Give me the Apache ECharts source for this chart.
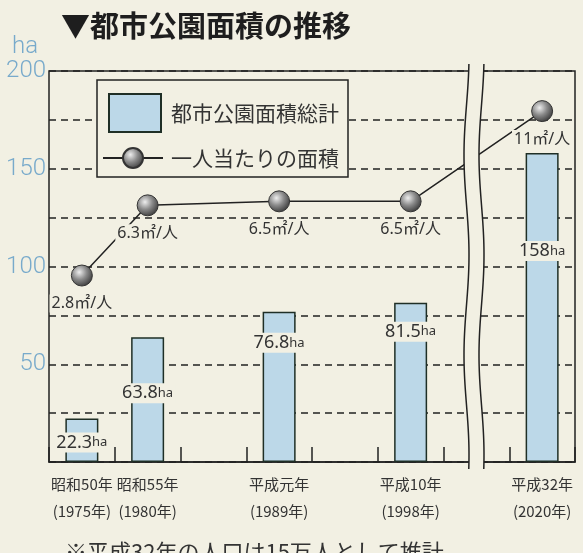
<!DOCTYPE html>
<html>
<head>
<meta charset="utf-8">
<script src="https://cdn.jsdelivr.net/npm/echarts@6/dist/echarts.min.js"></script>
<style>
  html, body { margin: 0; padding: 0; background: #f2f0e3; }
  #main { width: 583px; height: 553px; }
</style>
</head>
<body>
<div id="main"></div>
<script>
  // 区分（空欄は間隔を空けるためのもの）
  var categories = ['1975', '1980', 'gap1', '1989', 'gap2', '1998', 'gap3', '2020'];
  var eraLabels = ['昭和50年', '昭和55年', '', '平成元年', '', '平成10年', '', '平成32年'];
  var yearLabels = ['(1975年)', '(1980年)', '', '(1989年)', '', '(1998年)', '', '(2020年)'];
  // 都市公園面積総計 (ha)
  var parkArea = [22.3, 63.8, null, 76.8, null, 81.5, null, 158];
  // 一人当たりの面積 (㎡/人)
  var perPerson = [2.8, 6.3, null, 6.5, null, 6.5, null, 11];
  var yLabelTicks = [50, 100, 150, 200];

  var bg = '#f2f0e3';
  var ink = '#222';
  var jp = '"Noto Sans CJK JP", "Noto Sans", sans-serif';

  // ラベルをバー上端からどれだけ下げるか
  var barLabelDrop = [24, 56, 0, 31, 0, 29, 0, 98];

  var barData = parkArea.map(function (v, i) {
    if (v == null) return null;
    return { value: v, label: { position: ['50%', barLabelDrop[i]] } };
  });

  // 省略記号（波線）
  function wave(base) {
    var pts = [];
    for (var y = 64; y <= 470; y += 3) {
      pts.push([base + 2.5 * Math.cos(2 * Math.PI * (y - 55) / 200), y]);
    }
    return pts;
  }
  var leftWave = wave(466.5);
  var rightWave = wave(481.5);
  var gapFill = leftWave.concat(rightWave.slice().reverse());

  var sphere = {
    type: 'radial', x: 0.38, y: 0.35, r: 0.75,
    colorStops: [
      { offset: 0, color: '#eeeeee' },
      { offset: 0.45, color: '#8a8a8a' },
      { offset: 1, color: '#2a2a2a' }
    ]
  };

  var chart = echarts.init(document.getElementById('main'));
  chart.setOption({
    backgroundColor: bg,
    animation: false,
    title: [
      {
        text: '▼都市公園面積の推移',
        left: 56, top: 6,
        textStyle: { fontFamily: jp, fontSize: 29, fontWeight: 'bold', color: '#1e1e1e' }
      },
      {
        text: '※平成32年の人口は15万人として推計',
        left: 60, top: 536,
        textStyle: { fontFamily: jp, fontSize: 22, fontWeight: 'normal', color: '#333' }
      }
    ],
    legend: [
      {
        data: [{ name: '都市公園面積総計', icon: 'rect' }],
        left: 103, top: 88,
        itemWidth: 52, itemHeight: 38,
        z: 10,
        textStyle: { fontFamily: jp, fontSize: 21, color: '#333', padding: [0, 0, 0, 5] }
      },
      {
        data: ['一人当たりの面積'],
        left: 97, top: 142,
        itemWidth: 60, itemHeight: 25,
        z: 10,
        textStyle: { fontFamily: jp, fontSize: 21, color: '#333', padding: [0, 0, 0, 3] }
      }
    ],
    grid: {
      left: 49, right: 8, top: 71, bottom: 91,
      show: true, borderColor: ink, borderWidth: 1.5
    },
    xAxis: {
      type: 'category',
      data: categories,
      axisLine: { show: true, lineStyle: { color: ink, width: 1.5 } },
      axisTick: { show: true, inside: true, length: 15, interval: 0, lineStyle: { color: ink, width: 1.5 } },
      axisLabel: {
        interval: 0,
        margin: 9,
        fontFamily: jp,
        fontSize: 15,
        lineHeight: 27,
        color: '#333',
        formatter: function (v, i) {
          return eraLabels[i] ? eraLabels[i] + '\n' + yearLabels[i] : '';
        }
      }
    },
    yAxis: [
      {
        type: 'value',
        min: 0, max: 200, interval: 25,
        name: 'ha',
        nameLocation: 'end',
        nameGap: 24,
        nameTextStyle: {
          color: '#78aacb', fontSize: 24, fontFamily: 'Roboto', fontWeight: 300,
          align: 'right', verticalAlign: 'middle', padding: [0, 11, 0, 0]
        },
        axisLine: { show: false },
        axisTick: { show: false },
        axisLabel: {
          margin: 3,
          color: '#78aacb', fontSize: 24, fontFamily: 'Roboto', fontWeight: 300,
          formatter: function (v) { return yLabelTicks.indexOf(v) >= 0 ? String(v) : ''; }
        },
        splitLine: { lineStyle: { color: ink, width: 1.5, type: [7, 5] } }
      },
      {
        type: 'value', min: -6.5, max: 13, show: false,
        splitLine: { show: false }
      }
    ],
    series: [
      {
        name: '都市公園面積総計',
        type: 'bar',
        data: barData,
        barWidth: 33,
        itemStyle: { color: '#bcd8e8', borderColor: '#1f2f26', borderWidth: 1.5 },
        label: {
          show: true,
          align: 'center',
          verticalAlign: 'middle',
          backgroundColor: bg,
          padding: [1, 2],
          color: '#333',
          formatter: function (p) { return '{n|' + p.value + '}{u|ha}'; },
          rich: {
            n: { fontFamily: 'Noto Sans', fontSize: 18, color: '#333' },
            u: { fontFamily: 'Noto Sans', fontSize: 13, color: '#333' }
          }
        }
      },
      {
        name: '一人当たりの面積',
        type: 'line',
        yAxisIndex: 1,
        data: perPerson,
        connectNulls: true,
        symbol: 'circle',
        symbolSize: 21,
        lineStyle: { color: ink, width: 1.5 },
        itemStyle: { color: sphere, borderColor: '#333', borderWidth: 1 },
        label: {
          show: true,
          position: 'bottom',
          distance: 8,
          backgroundColor: bg,
          padding: [1, 2],
          fontFamily: '"Noto Sans", "Noto Sans CJK JP"',
          fontSize: 16,
          color: '#333',
          formatter: '{c}㎡/人'
        }
      }
    ],
    graphic: [
      {
        type: 'rect',
        z: 3,
        shape: { x: 97, y: 80, width: 251, height: 97 },
        style: { fill: bg, stroke: ink, lineWidth: 1.5 }
      },
      {
        type: 'polygon',
        z: 100,
        shape: { points: gapFill },
        style: { fill: bg, stroke: null }
      },
      {
        type: 'polyline',
        z: 101,
        shape: { points: leftWave },
        style: { stroke: ink, lineWidth: 1.5, fill: null }
      },
      {
        type: 'polyline',
        z: 101,
        shape: { points: rightWave },
        style: { stroke: ink, lineWidth: 1.5, fill: null }
      }
    ]
  });
</script>
</body>
</html>
